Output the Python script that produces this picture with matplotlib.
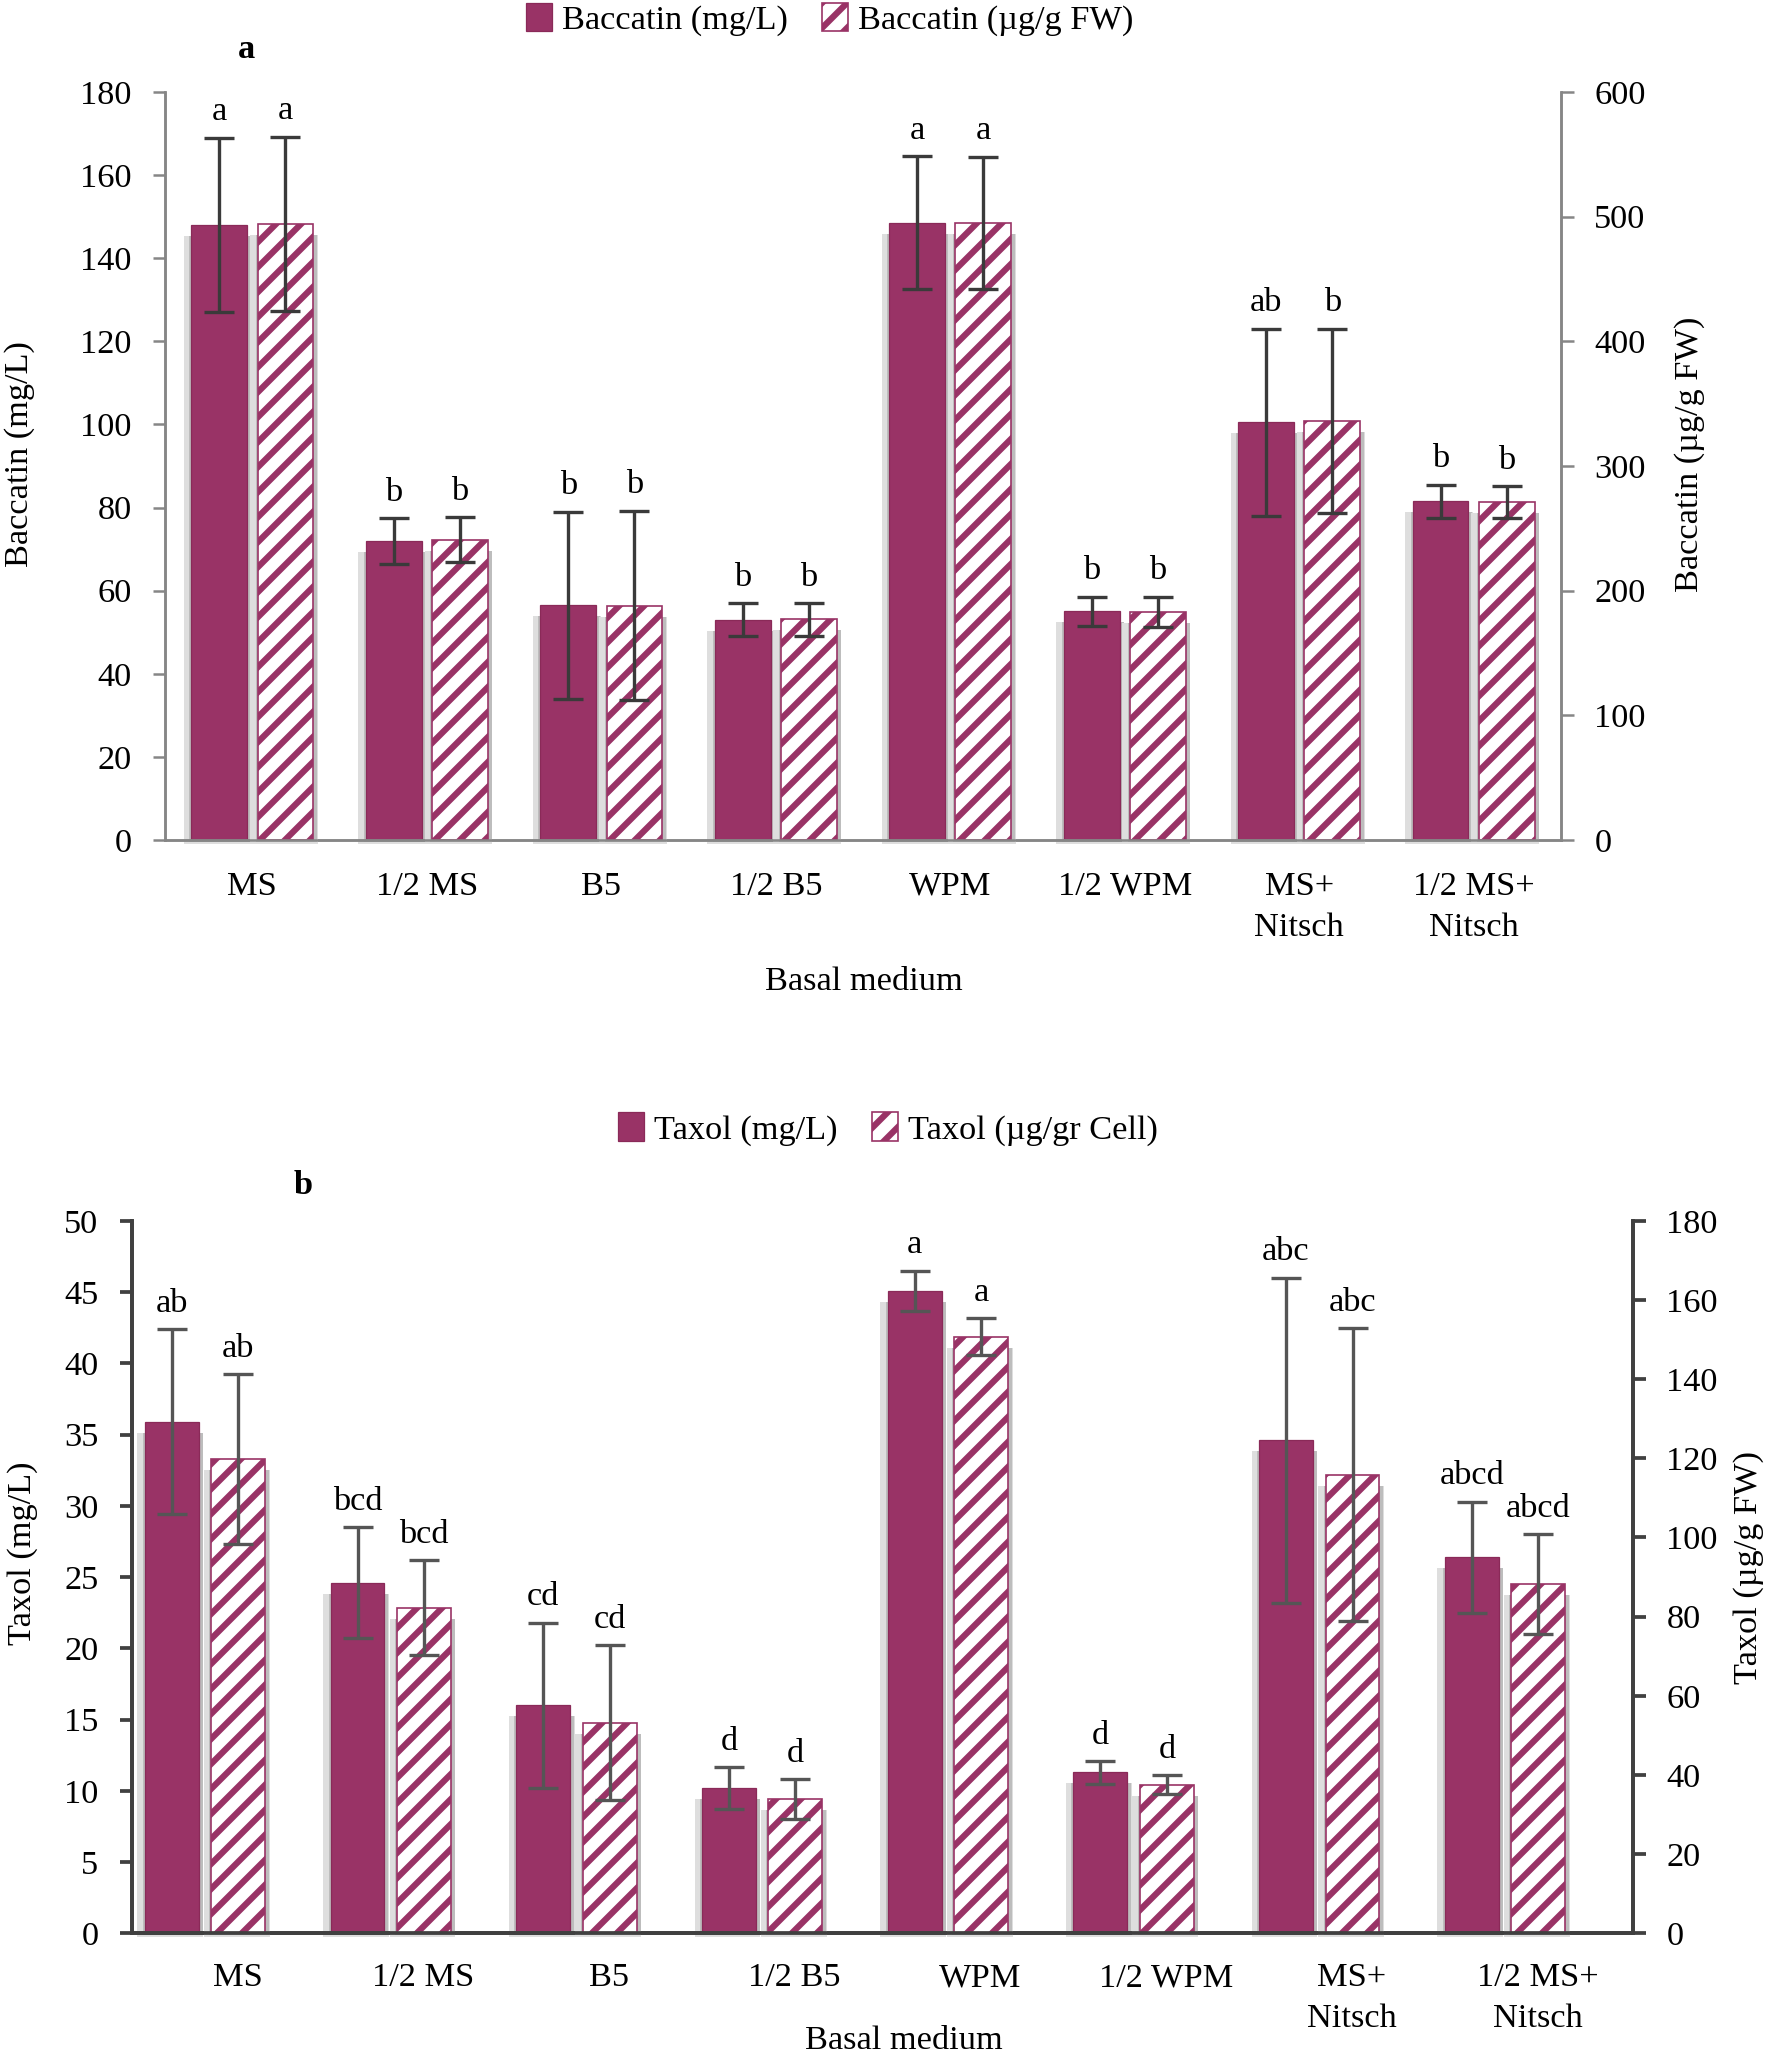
import matplotlib
matplotlib.use('Agg')
import matplotlib.pyplot as plt
import numpy as np

plt.rcParams['font.family'] = ['Liberation Serif', 'DejaVu Serif']
plt.rcParams['hatch.linewidth'] = 3.0
plt.rcParams['hatch.color'] = '#993366'

# categories
media = ['MS', '1/2 MS', 'B5', '1/2 B5', 'WPM', '1/2 WPM', 'MS+\nNitsch', '1/2 MS+\nNitsch']

# panel a: baccatin
bac_mgl = [148, 72, 56.5, 53, 148.5, 55, 100.5, 81.5]
bac_mgl_err = [21, 5.5, 22.5, 4, 16, 3.5, 22.5, 4]
bac_fw = [494, 241, 188, 177, 495, 183, 336, 271]
bac_fw_err = [70, 18, 76, 13, 53, 12, 74, 13]
bac_let_mgl = ['a', 'b', 'b', 'b', 'a', 'b', 'ab', 'b']
bac_let_fw = ['a', 'b', 'b', 'b', 'a', 'b', 'b', 'b']

# panel b: taxol
tax_mgl = [35.9, 24.6, 16.0, 10.2, 45.1, 11.3, 34.6, 26.4]
tax_mgl_err = [6.5, 3.9, 5.8, 1.45, 1.4, 0.8, 11.4, 3.9]
tax_cell = [119.8, 82.2, 53.2, 33.9, 150.7, 37.6, 115.8, 88.2]
tax_cell_err = [21.5, 12, 19.6, 5, 4.7, 2.3, 37, 12.6]
tax_let_mgl = ['ab', 'bcd', 'cd', 'd', 'a', 'd', 'abc', 'abcd']
tax_let_cell = ['ab', 'bcd', 'cd', 'd', 'a', 'd', 'abc', 'abcd']

PLUM = '#993366'
FS = 16.5
W, H = 1773, 2066


def bars_with_shadow(ax, x, vals, errs, letters, width, hatched, ecol):
    lo, hi = ax.get_ylim()
    pos = ax.get_position()
    py = (hi - lo) / (pos.height * H)
    x0, x1 = ax.get_xlim()
    px = (x1 - x0) / (pos.width * W)
    v = np.array(vals)
    # soft drop shadow
    ax.bar(x - 1.5 * px, v - 7 * py, width=width + 12 * px, bottom=-4 * py,
           color='#dedede', zorder=1, clip_on=False)
    ax.bar(x + 1 * px, v - 9 * py, width=width + 6 * px, bottom=-2 * py,
           color='#bdbdbd', zorder=1, clip_on=False)
    if hatched:
        b = ax.bar(x, vals, width=width, color='white', edgecolor=PLUM, hatch='//',
                   linewidth=0.8, zorder=2)
    else:
        b = ax.bar(x, vals, width=width, color=PLUM, edgecolor='#8a2a58',
                   linewidth=0.6, zorder=2)
    ax.errorbar(x, vals, yerr=errs, fmt='none', ecolor=ecol, elinewidth=1.6,
                capsize=7, capthick=1.6, zorder=3)
    for xi, vv, e, t in zip(x, vals, errs, letters):
        ax.annotate(t, (xi, vv + e), xytext=(0, 5), textcoords='offset points',
                    ha='center', va='bottom', fontsize=FS, zorder=4)
    return b


fig = plt.figure(figsize=(W / 150, H / 150), dpi=150)
idx = np.arange(len(media))

# ---------------- panel a ----------------
axa = fig.add_axes([0.0931, 0.5934, 0.7873, 0.3621])
axa2 = axa.twinx()
for ax in (axa, axa2):
    ax.set_xlim(-0.5, 7.5)
axa.set_ylim(0, 180)
axa2.set_ylim(0, 600)
axa.set_yticks(np.arange(0, 181, 20))
axa2.set_yticks(np.arange(0, 601, 100))
w = 0.32
ba = bars_with_shadow(axa, idx - 0.19, bac_mgl, bac_mgl_err, bac_let_mgl, w, False, '#3a3a3a')
ba2 = bars_with_shadow(axa2, idx + 0.19, bac_fw, bac_fw_err, bac_let_fw, w, True, '#3a3a3a')
axa.set_xticks(idx)
axa.set_xticklabels(media, fontsize=FS, linespacing=1.45)
for ax in (axa, axa2):
    ax.spines['top'].set_visible(False)
    for s in ('left', 'right', 'bottom'):
        ax.spines[s].set_color('#868686')
        ax.spines[s].set_linewidth(1.2)
    ax.tick_params(axis='y', labelsize=FS, color='#868686', width=1.2, length=6, pad=10)
axa.tick_params(axis='x', length=0, pad=15)

fig.legend([ba, ba2], ['Baccatin (mg/L)', 'Baccatin (\u00b5g/g FW)'], loc='center',
           bbox_to_anchor=(0.468, 0.9905), ncol=2, frameon=False, fontsize=FS,
           handlelength=0.75, handleheight=0.9, handletextpad=0.3, columnspacing=1.0)
fig.text(0.487, 0.525, 'Basal medium', ha='center', va='center', fontsize=FS)
fig.text(0.0113, 0.78, 'Baccatin (mg/L)', rotation=90, ha='center', va='center', fontsize=FS)
fig.text(0.953, 0.78, 'Baccatin (\u00b5g/g FW)', rotation=90, ha='center', va='center', fontsize=FS)
fig.text(0.139, 0.976, 'a', ha='center', va='center', fontsize=FS, fontweight='bold')

# ---------------- panel b ----------------
axb = fig.add_axes([0.0743, 0.0642, 0.8468, 0.3449])
axb2 = axb.twinx()
for ax in (axb, axb2):
    ax.set_xlim(-0.5, 7.585)
axb.set_ylim(0, 50)
axb2.set_ylim(0, 180)
axb.set_yticks(np.arange(0, 51, 5))
axb2.set_yticks(np.arange(0, 181, 20))
w = 0.29
bb = bars_with_shadow(axb, idx - 0.284, tax_mgl, tax_mgl_err, tax_let_mgl, w, False, '#555555')
bb2 = bars_with_shadow(axb2, idx + 0.074, tax_cell, tax_cell_err, tax_let_cell, w, True, '#555555')
axb.set_xticks(idx + 0.07)
axb.set_xticklabels(media, fontsize=FS, linespacing=1.45)
for ax in (axb, axb2):
    ax.spines['top'].set_visible(False)
    for s in ('left', 'right', 'bottom'):
        ax.spines[s].set_color('#404040')
        ax.spines[s].set_linewidth(1.8)
    ax.tick_params(axis='y', labelsize=FS, color='#404040', width=1.8, length=6, pad=10)
axb.tick_params(axis='x', length=0, pad=14)

fig.legend([bb, bb2], ['Taxol (mg/L)', 'Taxol (\u00b5g/gr Cell)'], loc='center',
           bbox_to_anchor=(0.501, 0.4535), ncol=2, frameon=False, fontsize=FS,
           handlelength=0.75, handleheight=0.9, handletextpad=0.3, columnspacing=1.0)
fig.text(0.510, 0.0121, 'Basal medium', ha='center', va='center', fontsize=FS)
fig.text(0.0126, 0.248, 'Taxol (mg/L)', rotation=90, ha='center', va='center', fontsize=FS)
fig.text(0.9865, 0.2415, 'Taxol (\u00b5g/g FW)', rotation=90, ha='center', va='center', fontsize=FS)
fig.text(0.171, 0.4264, 'b', ha='center', va='center', fontsize=FS, fontweight='bold')

fig.savefig('out.png', dpi=150, facecolor='white')
